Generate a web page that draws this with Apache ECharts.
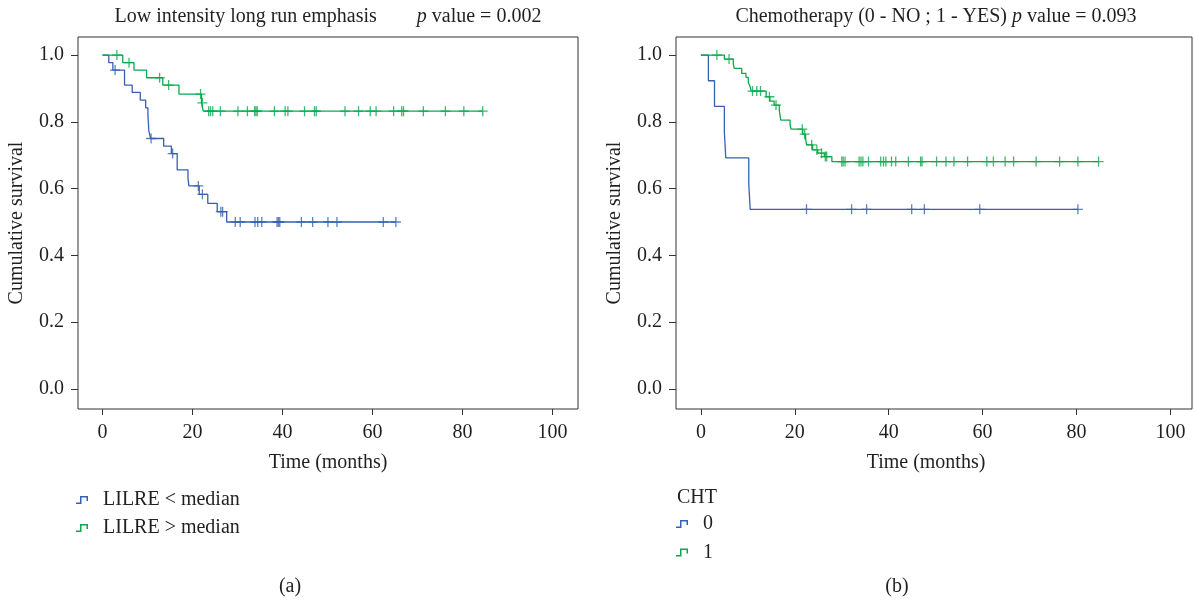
<!DOCTYPE html>
<html>
<head>
<meta charset="utf-8">
<script src="https://cdn.jsdelivr.net/npm/echarts@6/dist/echarts.min.js"></script>
<style>
html, body { margin: 0; padding: 0; background: #fff; }
#chart { width: 1194px; height: 605px; }
</style>
</head>
<body>
<div id="chart"></div>
<script>
// (a) LILRE < median : event times and survival after each event
const lowTimes = [0, 1.4, 2.3, 4.9, 6.6, 8.4, 9.6, 10.1, 10.2, 10.3, 10.7, 13.6, 15.3, 16.6, 19.0, 19.2, 21.5, 23.4, 25.5, 27.6, 65.2]
const lowSurv = [1, 0.977, 0.955, 0.910, 0.888, 0.865, 0.842, 0.820, 0.797, 0.773, 0.750, 0.727, 0.705, 0.656, 0.631, 0.608, 0.583, 0.556, 0.531, 0.500, 0.500]
const lowCens = [2.8, 10.8, 15.6, 21.3, 22.2, 26.3, 26.7, 29.5, 30.6, 33.9, 34.5, 35.4, 38.8, 39.1, 39.4, 44.2, 46.7, 50.1, 52.1, 62.4, 65.2]

// (a) LILRE > median
const highTimes = [0, 4.5, 7.0, 9.8, 13.4, 17.0, 22.0, 22.4, 84.5]
const highSurv = [1, 0.977, 0.955, 0.932, 0.910, 0.883, 0.857, 0.832, 0.832]
const highCens = [3.2, 5.9, 12.7, 14.7, 21.8, 22.2, 23.6, 24.0, 24.5, 26.2, 30.1, 32.2, 33.8, 34.1, 34.4, 38.2, 40.6, 41.2, 44.9, 47.1, 47.5, 53.9, 56.9, 59.5, 60.8, 64.7, 66.5, 66.9, 71.3, 76.2, 80.3, 84.5]

// (b) CHT = 0
const noTimes = [0, 1.6, 2.9, 5.0, 5.3, 10.2, 10.5, 80.3]
const noSurv = [1, 0.923, 0.846, 0.769, 0.692, 0.615, 0.538, 0.538]
const noCens = [22.5, 32.1, 35.3, 44.9, 47.6, 59.4, 80.3]

// (b) CHT = 1
const yesTimes = [0, 5.0, 6.9, 7.1, 8.7, 9.6, 10.1, 10.5, 10.7, 13.9, 14.7, 15.6, 16.7, 17.0, 19.0, 19.2, 21.7, 22.3, 22.5, 23.8, 24.9, 26.3, 27.9, 84.7]
const yesSurv = [1, 0.988, 0.973, 0.960, 0.945, 0.933, 0.918, 0.905, 0.892, 0.875, 0.862, 0.850, 0.835, 0.805, 0.790, 0.778, 0.763, 0.751, 0.731, 0.716, 0.706, 0.696, 0.681, 0.681]
const yesCens = [3.4, 6.0, 11.0, 11.9, 12.7, 14.6, 16.0, 21.6, 22.1, 23.6, 24.7, 25.7, 26.5, 26.8, 30.0, 30.3, 30.7, 33.7, 34.1, 34.5, 35.7, 38.3, 38.9, 39.4, 40.6, 41.5, 44.2, 46.8, 47.1, 50.2, 52.2, 53.9, 56.8, 60.9, 62.3, 64.8, 66.6, 71.4, 76.4, 80.3, 84.7]

const xTicks = [0, 20, 40, 60, 80, 100]
const yTicks = [0, 0.2, 0.4, 0.6, 0.8, 1.0]

const BLUE = '#3561b0'
const GREEN = '#0aa84c'
const TXT = '#231f20'
const FRAME = '#333'
const SERIF = '"Liberation Serif", "Times New Roman", serif'

const plusSymbol = 'path://M-0.13,-1H0.13V1H-0.13Z M-1,-0.13H1V0.13H-1Z'
const stepIcon = 'path://M0,6.5H4V0H12V5H10.5V1.5H5.5V8H0Z'

function survAt(times, surv, t) {
    let s = surv[0]
    for (let i = 0; i < times.length; i++) {
        if (times[i] <= t) s = surv[i]
    }
    return s
}

function curve(name, times, surv, cens, color, idx) {
    return [
        {
            name: name,
            type: 'line',
            step: 'end',
            xAxisIndex: idx,
            yAxisIndex: idx,
            showSymbol: false,
            silent: true,
            color: color,
            lineStyle: { color: color, width: 1.3 },
            data: times.map((t, i) => [t, surv[i]])
        },
        {
            name: name,
            type: 'scatter',
            xAxisIndex: idx,
            yAxisIndex: idx,
            silent: true,
            symbol: plusSymbol,
            symbolSize: [10, 10],
            itemStyle: { color: color },
            data: cens.map(t => [t, survAt(times, surv, t)])
        }
    ]
}

function xAxisFor(idx, min, max, pad) {
    return {
        type: 'value',
        gridIndex: idx,
        min: min,
        max: max,
        name: 'Time (months)',
        nameLocation: 'middle',
        nameGap: 44,
        nameTextStyle: { fontFamily: SERIF, fontSize: 20, color: TXT, padding: pad },
        axisLine: { show: false, onZero: false },
        splitLine: { show: false },
        axisTick: { customValues: xTicks, length: 6, lineStyle: { color: FRAME } },
        axisLabel: { customValues: xTicks, margin: 14, fontFamily: SERIF, fontSize: 20, color: TXT }
    }
}

function yAxisFor(idx) {
    return {
        type: 'value',
        gridIndex: idx,
        min: -0.06,
        max: 1.054,
        name: 'Cumulative survival',
        nameLocation: 'middle',
        nameGap: 51,
        nameTextStyle: { fontFamily: SERIF, fontSize: 20, color: TXT },
        axisLine: { show: false, onZero: false },
        splitLine: { show: false },
        axisTick: { customValues: yTicks, length: 7, lineStyle: { color: FRAME } },
        axisLabel: {
            customValues: yTicks, margin: 14, fontFamily: SERIF, fontSize: 20, color: TXT,
            formatter: v => v.toFixed(1)
        }
    }
}

const textRich = {
    t: { fontFamily: SERIF, fontSize: 20, color: TXT },
    i: { fontFamily: SERIF, fontSize: 20, color: TXT, fontStyle: 'italic' }
}

function label(x, y, text) {
    return {
        type: 'text', x: x, y: y, silent: true,
        style: { text: text, rich: textRich, fontFamily: SERIF, fontSize: 20, fill: TXT, align: 'center', verticalAlign: 'middle' }
    }
}

const legendText = { fontFamily: SERIF, fontSize: 20, color: TXT, padding: [0, 0, 0, 10] }

const chart = echarts.init(document.getElementById('chart'))
chart.setOption({
    backgroundColor: '#fff',
    animation: false,
    grid: [
        { left: 78, top: 37, width: 500, height: 372, show: true, borderColor: FRAME, borderWidth: 1 },
        { left: 676, top: 37, width: 516, height: 372, show: true, borderColor: FRAME, borderWidth: 1 }
    ],
    xAxis: [xAxisFor(0, -5.44, 105.67, 0), xAxisFor(1, -5.3, 104.6, [0, 16, 0, 0])],
    yAxis: [yAxisFor(0), yAxisFor(1)],
    legend: [
        {
            data: ['LILRE < median', 'LILRE > median'],
            orient: 'vertical', left: 76, top: 490, padding: 0,
            itemWidth: 12, itemHeight: 8, itemGap: 8,
            icon: stepIcon, selectedMode: false, textStyle: legendText
        },
        {
            data: ['0', '1'],
            orient: 'vertical', left: 676, top: 514, padding: 0,
            itemWidth: 12, itemHeight: 8, itemGap: 8.5,
            icon: stepIcon, selectedMode: false, textStyle: legendText
        }
    ],
    graphic: [
        label(328, 17, '{t|Low intensity long run emphasis}{t|        }{i|p}{t| value = 0.002}'),
        label(936, 17, '{t|Chemotherapy (0 - NO ; 1 - YES) }{i|p}{t| value = 0.093}'),
        { type: 'text', x: 677, y: 498, silent: true,
          style: { text: 'CHT', fontFamily: SERIF, fontSize: 20, fill: TXT, align: 'left', verticalAlign: 'middle' } },
        label(290, 587, '(a)'),
        label(897, 587, '(b)')
    ],
    series: [
        ...curve('LILRE < median', lowTimes, lowSurv, lowCens, BLUE, 0),
        ...curve('LILRE > median', highTimes, highSurv, highCens, GREEN, 0),
        ...curve('0', noTimes, noSurv, noCens, BLUE, 1),
        ...curve('1', yesTimes, yesSurv, yesCens, GREEN, 1)
    ]
})
</script>
</body>
</html>
